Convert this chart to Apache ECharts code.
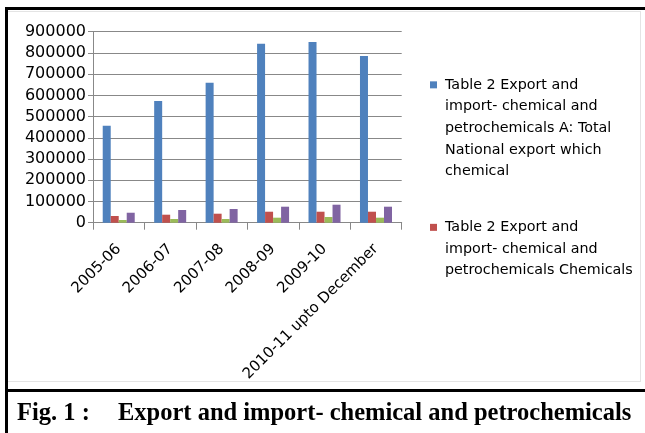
<!DOCTYPE html>
<html>
<head>
<meta charset="utf-8">
<script src="https://cdn.jsdelivr.net/npm/echarts@6/dist/echarts.min.js"></script>
<style>
  html, body { margin: 0; padding: 0; background: #fff; }
  .wrap { position: relative; width: 645px; height: 433px; overflow: hidden; }
  #chart { position: absolute; left: 0; top: 0; width: 645px; height: 433px; }
  .line { position: absolute; background: #000; }
  .area { position: absolute; left: 8px; top: 11px; width: 632px; height: 369px; border: 1px solid #e4e4e4; border-left: none; }
</style>
</head>
<body>
<div class="wrap">
  <div class="area"></div>
  <div id="chart"></div>
  <!-- frame lines -->
  <div class="line" style="left:5px;top:7px;width:640px;height:3px"></div>
  <div class="line" style="left:5px;top:7px;width:3px;height:426px"></div>
  <div class="line" style="left:5px;top:389px;width:640px;height:3px"></div>
</div>
<script>
const categories = ['2005-06', '2006-07', '2007-08', '2008-09', '2009-10', '2010-11 upto December']
const totalExport = [457000, 573000, 659000, 843000, 851000, 785000]
const chemicals = [31500, 37700, 42400, 51800, 51800, 51800]
const thirdSeries = [12700, 17400, 17400, 23600, 26900, 23600]
const fourthSeries = [47000, 59800, 64500, 75400, 84800, 75400]
const yTicks = [0, 100000, 200000, 300000, 400000, 500000, 600000, 700000, 800000, 900000]

const seriesNames = [
  'Table 2 Export and import- chemical and petrochemicals A: Total National export which chemical',
  'Table 2 Export and import- chemical and petrochemicals Chemicals',
  'Table 2 Export and import- chemical and petrochemicals Series 3',
  'Table 2 Export and import- chemical and petrochemicals Series 4'
]
// legend line breaks as in the picture
const legendLines = {
  [seriesNames[0]]: ['Table 2 Export and', 'import- chemical and', 'petrochemicals A: Total', 'National export which', 'chemical'],
  [seriesNames[1]]: ['Table 2 Export and', 'import- chemical and', 'petrochemicals Chemicals']
}
const colors = ['#4F81BD', '#C0504D', '#9BBB59', '#8064A2']

const font = 'DejaVu Sans'
const chart = echarts.init(document.getElementById('chart'))

const bar = (name, data, color) => ({
  name,
  type: 'bar',
  data,
  barWidth: 8,
  barGap: '0%',
  itemStyle: { color },
  emphasis: { disabled: true }
})

chart.setOption({
  animation: false,
  title: {
    text: '{a|Fig. 1 :}{b|Export and import- chemical and petrochemicals}',
    left: 12,
    top: 396,
    textStyle: {
      rich: {
        a: { fontFamily: 'Liberation Serif', fontWeight: 'bold', fontSize: 24.5, color: '#000', width: 101 },
        b: { fontFamily: 'Liberation Serif', fontWeight: 'bold', fontSize: 24.5, color: '#000' }
      }
    }
  },
  legend: {
    orient: 'vertical',
    left: 420,
    top: 69,
    itemWidth: 0,
    itemHeight: 0,
    itemGap: 34,
    data: [seriesNames[0], seriesNames[1]],
    formatter: name => {
      const idx = seriesNames.indexOf(name)
      return legendLines[name].map((l, i) => (i === 0 ? '{s' + idx + '|}' : '{p|}') + '{g|}' + l).join('\n')
    },
    textStyle: {
      fontFamily: font,
      fontSize: 14.3,
      lineHeight: 21.7,
      color: '#000',
      rich: {
        s0: { width: 7, height: 7, backgroundColor: colors[0] },
        s1: { width: 7, height: 7, backgroundColor: colors[1] },
        p: { width: 7 },
        g: { width: 8 }
      }
    }
  },
  grid: {
    left: 93,
    top: 31.7,
    right: 243.3,
    bottom: 210.3,
    containLabel: false
  },
  xAxis: {
    type: 'category',
    data: categories,
    axisLine: { lineStyle: { color: '#888', width: 1 } },
    axisTick: { show: true, length: 7, lineStyle: { color: '#888' } },
    axisLabel: {
      rotate: 45,
      margin: 24,
      interval: 0,
      color: '#000',
      fontFamily: font,
      fontSize: 15
    }
  },
  yAxis: {
    type: 'value',
    min: 0,
    max: 900000,
    interval: 100000,
    axisLine: { show: true, lineStyle: { color: '#888' } },
    axisTick: { show: true, inside: false, length: 5, lineStyle: { color: '#888' } },
    splitLine: { lineStyle: { color: '#888', width: 1 } },
    axisLabel: {
      margin: 7,
      color: '#000',
      fontFamily: font,
      fontSize: 16,
      formatter: v => (yTicks.includes(v) ? String(v) : '')
    }
  },
  series: [
    bar(seriesNames[0], totalExport, colors[0]),
    bar(seriesNames[1], chemicals, colors[1]),
    bar(seriesNames[2], thirdSeries, colors[2]),
    bar(seriesNames[3], fourthSeries, colors[3])
  ]
})
</script>
</body>
</html>
